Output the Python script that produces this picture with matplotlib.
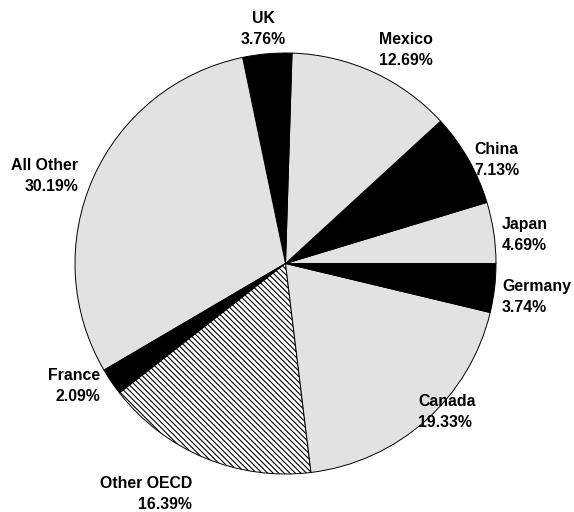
import matplotlib
matplotlib.use("Agg")
import matplotlib.pyplot as plt

# Data (counterclockwise from 3 o'clock)
labels = ["Japan", "China", "Mexico", "UK", "All Other", "France",
          "Other OECD", "Canada", "Germany"]
values = [4.69, 7.13, 12.69, 3.76, 30.19, 2.09, 16.39, 19.33, 3.74]

# Styles
GRAY = "#e2e2e2"
fills = [GRAY, "black", GRAY, "black", GRAY, "black", "white", GRAY, "black"]
hatches = [None, None, None, None, None, None, "\\\\\\\\\\\\", None, None]

# Label layout (offsets from centre in radius units, alignment)
label_pos = {
    "Japan": (1.029, 0.135, "left", "left"),
    "China": (0.895, 0.494, "left", "left"),
    "Mexico": (0.570, 1.014, "center", "center"),
    "UK": (-0.107, 1.114, "center", "center"),
    "All Other": (-0.986, 0.416, "right", "right"),
    "France": (-0.881, -0.584, "right", "right"),
    "Other OECD": (-0.444, -1.095, "right", "right"),
    "Canada": (0.629, -0.705, "left", "left"),
    "Germany": (1.029, -0.157, "left", "left"),
}

plt.rcParams["hatch.linewidth"] = 0.8
plt.rcParams["font.family"] = ["Liberation Sans", "DejaVu Sans"]

W, H, DPI = 574, 512, 100
fig = plt.figure(figsize=(W / DPI, H / DPI), dpi=DPI)
ax = fig.add_axes([0, 0, 1, 1])

cx, cy, R = 285.5, 263.5, 210.5

wedges, _ = ax.pie(values, startangle=0, counterclock=True, radius=1.0,
                   colors=fills,
                   wedgeprops=dict(edgecolor="black", linewidth=0.7))
for w, h in zip(wedges, hatches):
    if h:
        w.set_hatch(h)

ax.set_aspect("auto")
ax.set_xlim(-cx / R, (W - cx) / R)
ax.set_ylim(-(H - cy) / R, cy / R)
ax.axis("off")

for lab, v in zip(labels, values):
    x, y, ha, ma = label_pos[lab]
    ax.text(x, y, f"{lab}\n{v:.2f}%", ha=ha, va="center", multialignment=ma,
            fontsize=11.4, fontweight="bold", linespacing=1.5)

fig.savefig("out.png", dpi=DPI)
